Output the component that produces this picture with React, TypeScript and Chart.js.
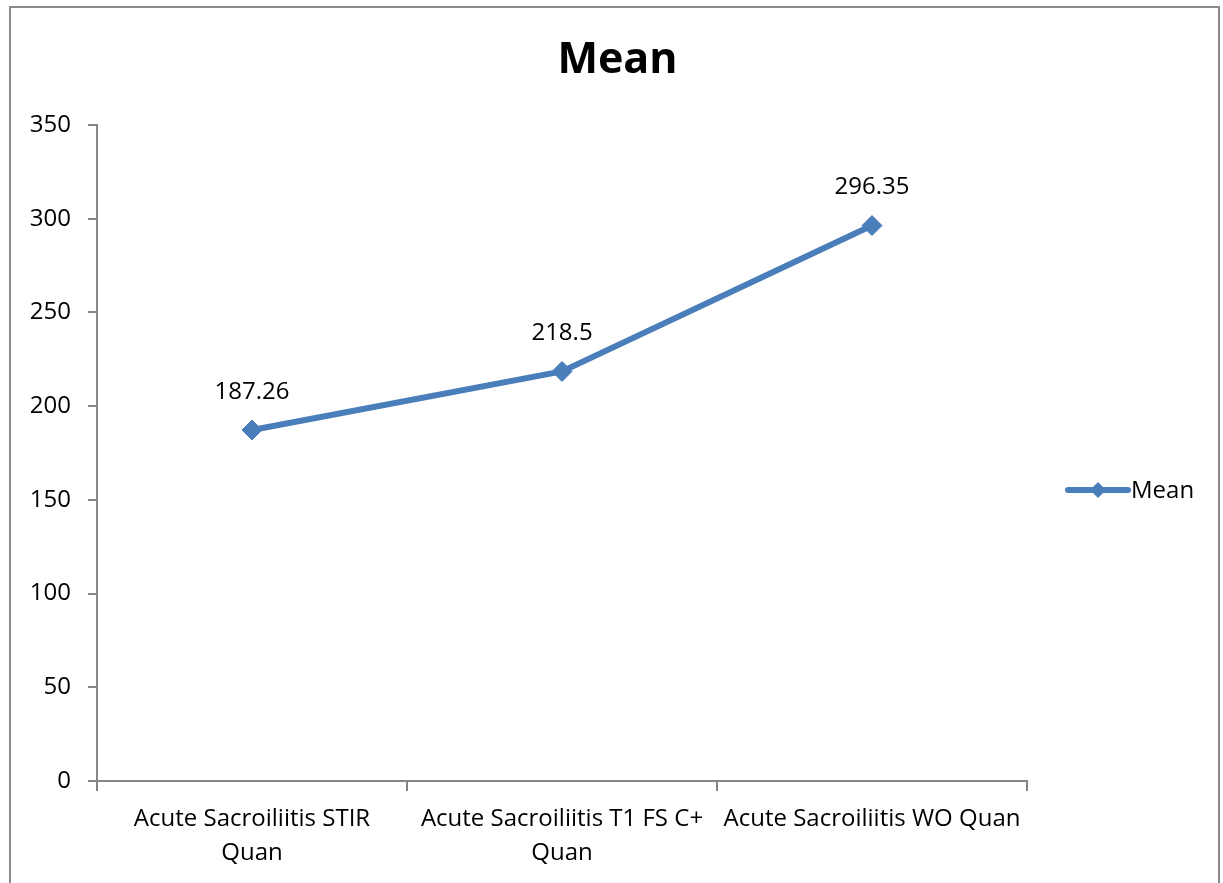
import React, { useEffect, useRef } from 'react';
import { Chart, registerables } from 'chart.js';

Chart.register(...registerables);

const categories: string[][] = [
  ['Acute Sacroiliitis STIR', 'Quan'],
  ['Acute Sacroiliitis T1 FS C+', 'Quan'],
  ['Acute Sacroiliitis WO Quan'],
];
const meanValues: number[] = [187.26, 218.5, 296.35];
const valueLabels: string[] = ['187.26', '218.5', '296.35'];
const seriesName = 'Mean';
const titleText = 'Mean';
const yMin = 0;
const yMax = 350;
const yStep = 50;

const FONT = "'Open Sans', 'DejaVu Sans', sans-serif";
const LINE_COLOR = '#4a7ebb';
const AXIS_COLOR = '#868686';

const titlePlugin = {
  id: 'fullTitle',
  afterDraw(chart: any) {
    const ctx = chart.ctx;
    ctx.save();
    ctx.font = `bold 43px ${FONT}`;
    ctx.fillStyle = '#000';
    ctx.textAlign = 'center';
    ctx.textBaseline = 'middle';
    ctx.fillText(titleText, chart.width / 2 + 6, 61);
    ctx.restore();
  },
};

const dataLabelPlugin = {
  id: 'dataLabels',
  afterDatasetsDraw(chart: any) {
    const ctx = chart.ctx;
    const meta = chart.getDatasetMeta(0);
    ctx.save();
    ctx.font = `24px ${FONT}`;
    ctx.fillStyle = '#000';
    ctx.textAlign = 'center';
    ctx.textBaseline = 'middle';
    meta.data.forEach((pt: any, i: number) => {
      ctx.fillText(valueLabels[i], pt.x, pt.y - 38);
    });
    ctx.restore();
  },
};

const legendPlugin = {
  id: 'sideLegend',
  afterDraw(chart: any) {
    const ctx = chart.ctx;
    const area = chart.chartArea;
    const y = (area.top + area.bottom) / 2 + 37;
    const x0 = area.right + 41;
    const x1 = x0 + 60;
    ctx.save();
    ctx.strokeStyle = LINE_COLOR;
    ctx.lineWidth = 6;
    ctx.lineCap = 'round';
    ctx.beginPath();
    ctx.moveTo(x0, y);
    ctx.lineTo(x1, y);
    ctx.stroke();
    const cx = (x0 + x1) / 2;
    const r = 8;
    ctx.fillStyle = LINE_COLOR;
    ctx.beginPath();
    ctx.moveTo(cx, y - r);
    ctx.lineTo(cx + r, y);
    ctx.lineTo(cx, y + r);
    ctx.lineTo(cx - r, y);
    ctx.closePath();
    ctx.fill();
    ctx.font = `24px ${FONT}`;
    ctx.fillStyle = '#000';
    ctx.textAlign = 'left';
    ctx.textBaseline = 'middle';
    ctx.fillText(seriesName, x1 + 3, y + 1);
    ctx.restore();
  },
};

export default function App() {
  const canvasRef = useRef<HTMLCanvasElement | null>(null);

  useEffect(() => {
    if (!canvasRef.current) return;
    const chart = new Chart(canvasRef.current, {
      type: 'line',
      data: {
        labels: categories as any,
        datasets: [
          {
            label: seriesName,
            data: meanValues,
            borderColor: LINE_COLOR,
            backgroundColor: LINE_COLOR,
            borderWidth: 6,
            pointStyle: 'rectRot',
            pointRadius: 10,
            pointBorderWidth: 1,
            pointBackgroundColor: LINE_COLOR,
            pointBorderColor: LINE_COLOR,
            tension: 0,
          },
        ],
      },
      options: {
        animation: false,
        responsive: false,
        maintainAspectRatio: false,
        layout: { padding: { left: 0, right: 196, top: 125, bottom: 0 } },
        plugins: {
          legend: { display: false },
          tooltip: { enabled: false },
          title: { display: false },
        },
        scales: {
          x: {
            type: 'category',
            offset: true,
            afterFit(scale: any) {
              scale.height = 102;
            },
            border: { display: true, color: AXIS_COLOR, width: 2 },
            grid: {
              offset: true,
              drawOnChartArea: false,
              drawTicks: true,
              tickLength: 10,
              color: AXIS_COLOR,
              lineWidth: 2,
            },
            ticks: {
              color: '#000',
              font: { family: FONT, size: 24, lineHeight: 1.42 },
              maxRotation: 0,
              minRotation: 0,
              autoSkip: false,
              padding: 11,
            },
          },
          y: {
            min: yMin,
            max: yMax,
            afterFit(scale: any) {
              scale.width = 97;
            },
            border: { display: true, color: AXIS_COLOR, width: 2 },
            grid: {
              drawOnChartArea: false,
              drawTicks: true,
              tickLength: 9,
              color: AXIS_COLOR,
              lineWidth: 2,
            },
            ticks: {
              stepSize: yStep,
              color: '#000',
              font: { family: FONT, size: 24 },
              padding: 17,
            },
          },
        },
      },
      plugins: [titlePlugin, dataLabelPlugin, legendPlugin],
    });
    return () => chart.destroy();
  }, []);

  return (
    <div style={{ position: 'absolute', left: 0, top: 0, width: 1223, height: 883, background: '#fff', overflow: 'hidden' }}>
      <div
        style={{
          position: 'absolute',
          left: 9,
          top: 6,
          width: 1211,
          height: 900,
          border: '2px solid #8a8a8a',
          boxSizing: 'border-box',
        }}
      />
      <canvas
        ref={canvasRef}
        width={1223}
        height={883}
        style={{ position: 'absolute', left: 0, top: 0, width: 1223, height: 883 }}
      />
    </div>
  );
}
